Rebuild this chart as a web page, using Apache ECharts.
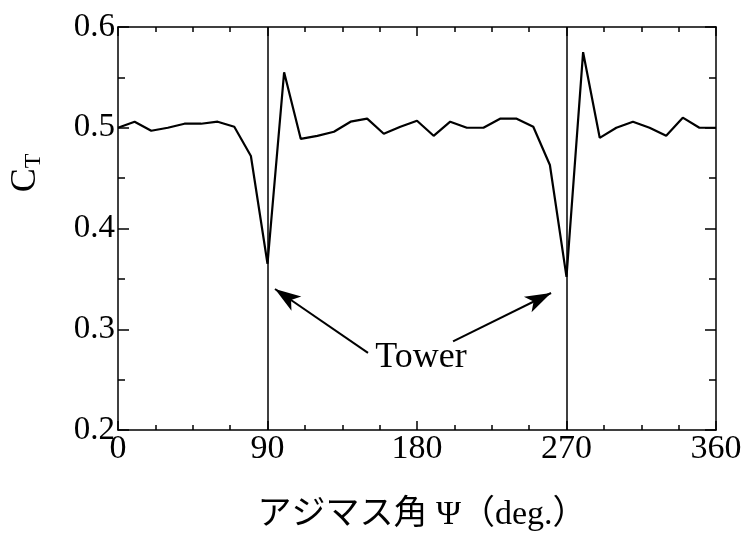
<!DOCTYPE html>
<html>
<head>
<meta charset="utf-8">
<script src="https://cdn.jsdelivr.net/npm/echarts@6/dist/echarts.min.js"></script>
<style>
html, body { margin: 0; padding: 0; background: #fff; }
#main { width: 746px; height: 543px; }
</style>
</head>
<body>
<div id="main"></div>
<script>
// azimuth angle (deg) and thrust coefficient
var angles = [0, 10, 20, 30, 40, 50, 60, 70, 80, 90, 100, 110, 120, 130, 140, 150, 160, 170, 180,
    190, 200, 210, 220, 230, 240, 250, 260, 270, 280, 290, 300, 310, 320, 330, 340, 350, 360];
var ctValues = [0.500, 0.506, 0.497, 0.500, 0.504, 0.504, 0.506, 0.501, 0.472, 0.365, 0.555, 0.489,
    0.492, 0.496, 0.506, 0.509, 0.494, 0.501, 0.507, 0.492, 0.506, 0.500, 0.500, 0.509, 0.509,
    0.501, 0.463, 0.352, 0.575, 0.490, 0.500, 0.506, 0.500, 0.492, 0.510, 0.500, 0.500];
var towerAngles = [90, 270];
var xTicks = [0, 90, 180, 270, 360];
var yTicks = [0.2, 0.3, 0.4, 0.5, 0.6];

var serif = 'Liberation Serif, Noto Sans CJK JP, serif';
var myChart = echarts.init(document.getElementById('main'));

var points = [];
for (var i = 0; i < angles.length; i++) points.push([angles[i], ctValues[i]]);

function xAxisCfg(pos, showLabel) {
    return {
        type: 'value', position: pos, min: xTicks[0], max: xTicks[xTicks.length - 1], interval: 90,
        axisLine: {show: true, onZero: false, lineStyle: {color: '#000', width: 1.5}},
        axisTick: {show: true, inside: true, length: 9, lineStyle: {color: '#000', width: 1.5}},
        minorTick: {show: true, splitNumber: 4, length: 5, lineStyle: {color: '#000', width: 1.5}},
        splitLine: {show: false},
        axisLabel: {show: showLabel, color: '#000', fontFamily: serif, fontSize: 34, margin: 2}
    };
}
function yAxisCfg(pos, showLabel) {
    return {
        type: 'value', position: pos, min: yTicks[0], max: yTicks[yTicks.length - 1], interval: 0.1,
        axisLine: {show: true, onZero: false, lineStyle: {color: '#000', width: 1.5}},
        axisTick: {show: true, inside: true, length: 11, lineStyle: {color: '#000', width: 1.5}},
        minorTick: {show: true, splitNumber: 2, length: 7, lineStyle: {color: '#000', width: 1.5}},
        splitLine: {show: false},
        axisLabel: {show: showLabel, color: '#000', fontFamily: serif, fontSize: 33, margin: 3,
            formatter: function (v) { return v.toFixed(1); }}
    };
}

var xb = xAxisCfg('bottom', true);
xb.name = 'アジマス角 Ψ（deg.）';
xb.nameLocation = 'middle';
xb.nameGap = 68;
xb.nameTextStyle = {color: '#000', fontFamily: serif, fontSize: 34, padding: [0, 0, 0, 10]};

var arrowStyle = {color: '#000', width: 2, type: 'solid'};

var option = {
    animation: false,
    grid: {left: 118, right: 30, top: 27, bottom: 113},
    xAxis: [xb, xAxisCfg('top', false)],
    yAxis: [yAxisCfg('left', true), yAxisCfg('right', false)],
    graphic: [{
        type: 'text', x: 26, y: 173, rotation: Math.PI / 2,
        style: {
            text: '{c|C}{t|T}', align: 'center', verticalAlign: 'middle',
            rich: {
                c: {fontFamily: serif, fontSize: 36, fill: '#000'},
                t: {fontFamily: serif, fontSize: 24, fill: '#000', padding: [16, 0, 0, 0]}
            }
        }
    }],
    series: [{
        type: 'line',
        data: points,
        showSymbol: false,
        lineStyle: {color: '#000', width: 2.2},
        markLine: {
            silent: true,
            symbol: ['none', 'none'],
            label: {show: false},
            lineStyle: {color: '#000', width: 1.5, type: 'solid'},
            data: towerAngles.map(function (a) { return {xAxis: a}; }).concat([
                [{coord: [150.5, 0.2765], symbol: 'none', lineStyle: arrowStyle},
                 {coord: [94.5, 0.340], symbol: 'arrow', symbolSize: [13, 26]}],
                [{coord: [201.7, 0.288], symbol: 'none', lineStyle: arrowStyle},
                 {coord: [260.7, 0.336], symbol: 'arrow', symbolSize: [13, 26]}]
            ])
        },
        markPoint: {
            silent: true,
            symbolSize: 0,
            label: {show: true, formatter: 'Tower', color: '#000', fontFamily: serif, fontSize: 36},
            data: [{coord: [182.4, 0.272]}]
        }
    }]
};
myChart.setOption(option);
</script>
</body>
</html>
